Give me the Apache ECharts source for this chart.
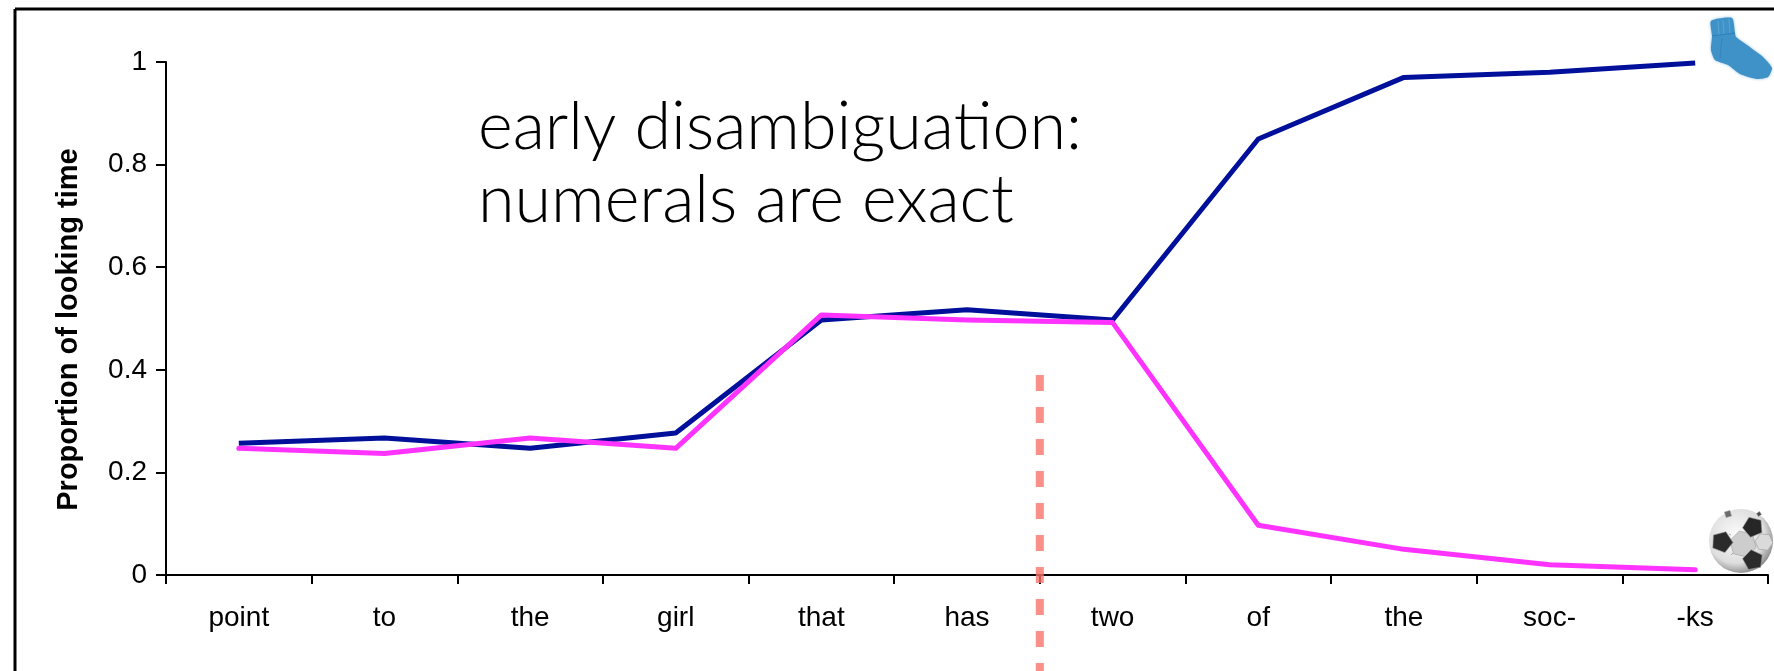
<!DOCTYPE html>
<html>
<head>
<meta charset="utf-8">
<style>
html, body { margin: 0; padding: 0; background: #fff; }
#chart { width: 1774px; height: 671px; }
</style>
<script src="https://cdn.jsdelivr.net/npm/echarts@6/dist/echarts.min.js"></script>
</head>
<body>
<div id="chart"></div>
<script>
var words = ['point', 'to', 'the', 'girl', 'that', 'has', 'two', 'of', 'the', 'soc-', '-ks'];
var sockLooks = [0.257, 0.267, 0.247, 0.277, 0.497, 0.517, 0.497, 0.85, 0.97, 0.98, 0.998];
var ballLooks = [0.247, 0.237, 0.267, 0.247, 0.507, 0.497, 0.492, 0.097, 0.05, 0.02, 0.01];
var yTicks = [0, 0.2, 0.4, 0.6, 0.8, 1];
// the dashed cue sits on the tick between "has" and "two"
var cuePoints = [[6, 0.39], [6, -0.19]];

var chart = echarts.init(document.getElementById('chart'));

// regular polygon for the ball patches
function patch (cx, cy, r, sides, rot, fill) {
	var pts = [];
	for (var i = 0; i < sides; i++) {
		var a = rot + i * 2 * Math.PI / sides;
		pts.push([cx + r * Math.cos(a), cy + r * Math.sin(a)]);
	}
	return {
		type: 'polygon',
		shape: {points: pts},
		style: {fill: fill, stroke: '#9a9a9a', lineWidth: 0.6}
	};
}

function seam (x1, y1, x2, y2, color, width) {
	return {type: 'line', shape: {x1: x1, y1: y1, x2: x2, y2: y2}, style: {stroke: color, lineWidth: width}};
}

var sockOutline = [
	[1711, 21], [1732, 18], [1735, 33], [1736, 37], [1747, 45], [1763, 57], [1772, 68],
	[1768, 77], [1757, 79], [1740, 74], [1728, 65], [1715, 60], [1711, 50], [1712, 36]
];

var decorations = [
	// frame, open on the right and at the bottom
	seam(15, 9, 1774, 9, '#000', 3),
	seam(15, 9, 15, 671, '#000', 3),
	{
		type: 'text',
		left: 478,
		top: 91,
		style: {
			text: 'early disambiguation:\nnumerals are exact',
			font: '300 66.5px Lato, "Open Sans", sans-serif',
			lineHeight: 73,
			fill: '#000'
		}
	},
	// sock
	{
		type: 'polygon',
		shape: {points: sockOutline, smooth: 0.2},
		style: {fill: '#3f92c8', shadowBlur: 3, shadowColor: 'rgba(63,146,200,0.6)'}
	},
	seam(1718, 21, 1719, 35, '#5aa5d4', 1),
	seam(1723, 20, 1724, 34, '#5aa5d4', 1),
	seam(1729, 19, 1730, 33, '#5aa5d4', 1),
	seam(1712, 36, 1735, 33, '#2f7fb5', 1.2),
	seam(1722, 38, 1720, 58, '#337fb0', 0.8),
	// ball
	{
		type: 'circle',
		shape: {cx: 1741, cy: 541, r: 32},
		style: {
			fill: new echarts.graphic.RadialGradient(0.42, 0.4, 0.62, [
				{offset: 0, color: '#fbfbfb'},
				{offset: 0.72, color: '#dedede'},
				{offset: 1, color: '#8f8f8f'}
			])
		}
	},
	patch(1743, 544, 13.5, 6, 0.25, '#cdcdcd'),
	patch(1764, 542, 9, 6, 0.1, '#dadada'),
	patch(1753, 527, 10.5, 5, 0.55, '#262626'),
	patch(1722, 542, 11, 5, 0.05, '#2b2b2b'),
	patch(1753, 560, 10.5, 5, -0.5, '#2b2b2b'),
	patch(1728, 514, 4, 4, 0.5, '#6c6c6c'),
	patch(1759, 514, 2.5, 4, 0.2, '#4a4a4a'),
	seam(1731, 535, 1729, 534, '#9a9a9a', 0.8),
	seam(1733, 553, 1731, 555, '#9a9a9a', 0.8)
];

chart.setOption({
	animation: false,
	backgroundColor: '#fff',
	grid: {left: 166, right: 6, top: 62, bottom: 96},
	xAxis: [
		{
			type: 'category',
			data: words,
			axisLine: {show: true, lineStyle: {color: '#000', width: 2}},
			axisTick: {show: true, length: 9, interval: 0, lineStyle: {color: '#000', width: 2}},
			axisLabel: {
				color: '#000',
				fontFamily: '"Liberation Sans", Arial, sans-serif',
				fontSize: 28,
				margin: 29,
				interval: 0
			}
		},
		{type: 'value', min: 0, max: 11, show: false}
	],
	yAxis: {
		type: 'value',
		min: 0,
		max: 1,
		interval: 0.2,
		splitLine: {show: false},
		axisLine: {show: true, lineStyle: {color: '#000', width: 2}},
		axisTick: {show: true, length: 10, lineStyle: {color: '#000', width: 2}},
		axisLabel: {
			color: '#000',
			fontFamily: '"Liberation Sans", Arial, sans-serif',
			fontSize: 28,
			margin: 19,
			formatter: function (v) {
				return yTicks.indexOf(v) >= 0 ? String(v) : '';
			}
		},
		name: 'Proportion of looking time',
		nameLocation: 'middle',
		nameGap: 83,
		nameTextStyle: {
			color: '#000',
			fontFamily: '"Liberation Sans", Arial, sans-serif',
			fontWeight: 'bold',
			fontSize: 29,
			padding: [0, 22, 0, 0]
		}
	},
	series: [
		{
			type: 'line',
			data: sockLooks,
			showSymbol: false,
			symbol: 'none',
			z: 3,
			lineStyle: {color: '#00109a', width: 5, join: 'round'}
		},
		{
			type: 'line',
			data: ballLooks,
			showSymbol: false,
			symbol: 'none',
			z: 4,
			lineStyle: {color: '#ff33ff', width: 5, cap: 'round', join: 'round'}
		},
		{
			type: 'line',
			xAxisIndex: 1,
			data: cuePoints,
			symbol: 'none',
			clip: false,
			z: 5,
			lineStyle: {color: 'rgba(247,115,105,0.8)', width: 8, type: [16, 16]}
		}
	],
	graphic: decorations
});
</script>
</body>
</html>
